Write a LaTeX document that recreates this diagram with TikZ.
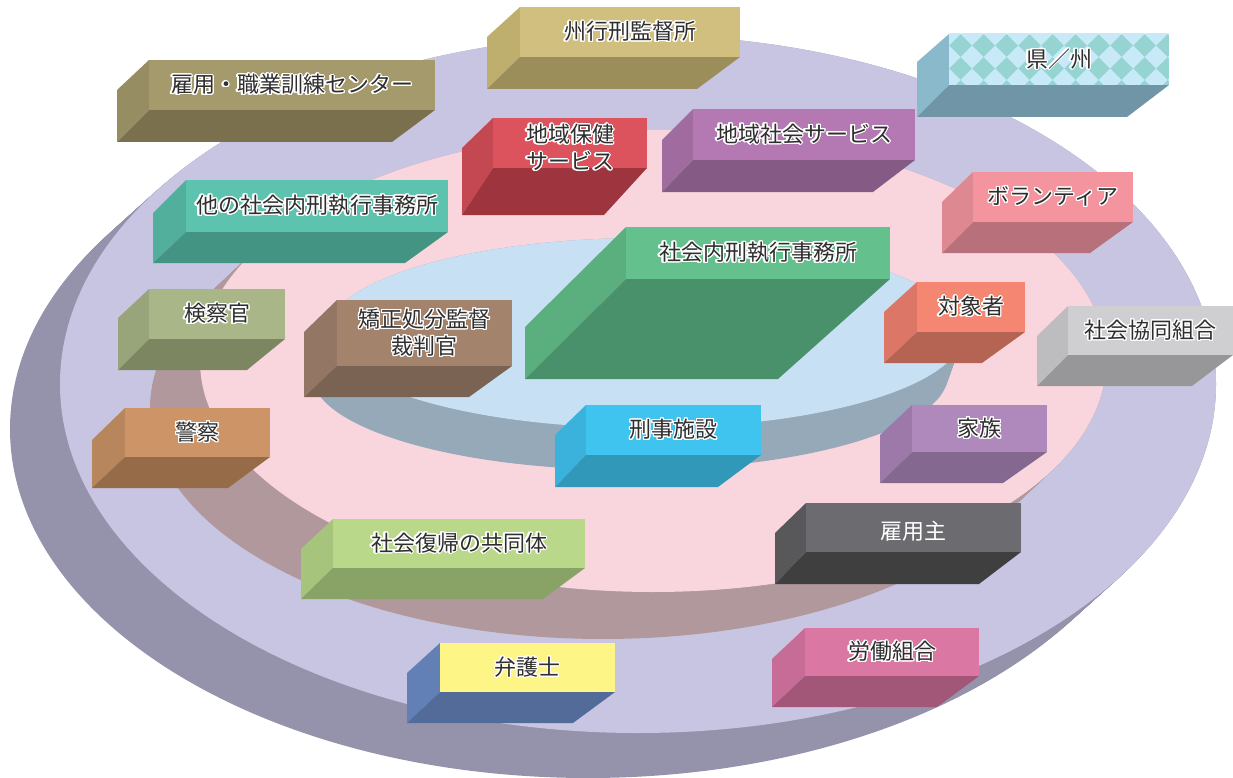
\documentclass[tikz,border=0pt]{standalone}
\usepackage{fontspec}
\setmainfont{Noto Sans CJK JP}
\usepackage{contour}
\contourlength{1.2pt}
\contournumber{24}
\definecolor{txt}{HTML}{2E2E2E}
\definecolor{outerS}{HTML}{9592AB}
\definecolor{outerT}{HTML}{C7C5E2}
\definecolor{midS}{HTML}{B0989D}
\definecolor{midT}{HTML}{F9D6DD}
\definecolor{innerS}{HTML}{95A9B8}
\definecolor{innerT}{HTML}{C7E0F4}
% block colours: T top, L left, B bottom
\definecolor{c1T}{HTML}{D0BF7E}\definecolor{c1L}{HTML}{BFAF6E}\definecolor{c1B}{HTML}{9B8E5B}
\definecolor{c2T}{HTML}{A59A6C}\definecolor{c2L}{HTML}{978D62}\definecolor{c2B}{HTML}{7A704E}
\definecolor{c3T}{HTML}{96D4D2}\definecolor{c3L}{HTML}{8BB9CC}\definecolor{c3B}{HTML}{7095A7}
\definecolor{c3P}{HTML}{C8E9F7}
\definecolor{c4T}{HTML}{DC535E}\definecolor{c4L}{HTML}{C44852}\definecolor{c4B}{HTML}{9E343D}
\definecolor{c5T}{HTML}{B479B3}\definecolor{c5L}{HTML}{A06CA0}\definecolor{c5B}{HTML}{855B86}
\definecolor{c6T}{HTML}{5DC2AE}\definecolor{c6L}{HTML}{52AF9C}\definecolor{c6B}{HTML}{439482}
\definecolor{c7T}{HTML}{F4949E}\definecolor{c7L}{HTML}{DE8891}\definecolor{c7B}{HTML}{B8707A}
\definecolor{c8T}{HTML}{64C08C}\definecolor{c8L}{HTML}{5BAF7E}\definecolor{c8B}{HTML}{48916A}
\definecolor{c9T}{HTML}{F48672}\definecolor{c9L}{HTML}{DC7768}\definecolor{c9B}{HTML}{B56453}
\definecolor{c10T}{HTML}{B089BC}\definecolor{c10L}{HTML}{9C79A8}\definecolor{c10B}{HTML}{846890}
\definecolor{c11T}{HTML}{CFCFD1}\definecolor{c11L}{HTML}{BDBDBF}\definecolor{c11B}{HTML}{97979A}
\definecolor{c12T}{HTML}{A8B688}\definecolor{c12L}{HTML}{98A57B}\definecolor{c12B}{HTML}{7C8762}
\definecolor{c13T}{HTML}{A4836D}\definecolor{c13L}{HTML}{937663}\definecolor{c13B}{HTML}{7A6352}
\definecolor{c14T}{HTML}{CC9467}\definecolor{c14L}{HTML}{B8865C}\definecolor{c14B}{HTML}{966B48}
\definecolor{c15T}{HTML}{3FC3EF}\definecolor{c15L}{HTML}{3BB2DC}\definecolor{c15B}{HTML}{3298BA}
\definecolor{c16T}{HTML}{BAD88A}\definecolor{c16L}{HTML}{A6C47C}\definecolor{c16B}{HTML}{89A266}
\definecolor{c17T}{HTML}{6C6C70}\definecolor{c17L}{HTML}{58585B}\definecolor{c17B}{HTML}{3F3F3F}
\definecolor{c18T}{HTML}{DA77A3}\definecolor{c18L}{HTML}{C66C96}\definecolor{c18B}{HTML}{A25678}
\definecolor{c19T}{HTML}{FEF587}\definecolor{c19L}{HTML}{6380B6}\definecolor{c19B}{HTML}{536B98}

\tikzset{lbl/.style={text=txt, font=\fontsize{22}{27}\selectfont, align=center, inner sep=0pt}}
\newcommand\blockextra{}
\newcommand\bshift{0}
\newcommand\block[9]{\def\bn{#1}\def\bxa{#2}\def\bya{#3}\def\bxb{#4}\def\byb{#5}\def\bxl{#6}\def\bye{#7}\def\byc{#8}\def\bxg{#9}\blockcont}
\newcommand\blockcont[1]{%
  \fill[fill=\bn L] (\bxa,\bya) -- (\bxl,\bye) -- (\bxl,\byc) -- (\bxa,\byb) -- cycle;
  \fill[fill=\bn B] (\bxa,\byb) -- (\bxb,\byb) -- (\bxg,\byc) -- (\bxl,\byc) -- cycle;
  \fill[fill=\bn T] (\bxa,\bya) rectangle (\bxb,\byb);
  \blockextra
  \node[lbl] (\bn) at ({(\bxa+\bxb)/2},{(\bya+\byb)/2+\bshift}) {#1};
}
\newcommand\ct[1]{\contour{white}{#1}}

\begin{document}
\begin{tikzpicture}[x=1pt,y=-1pt]
\useasboundingbox (0,0) rectangle (1233,778);
% outer disk
\foreach \t in {0,0.04,...,1.001}
  \fill[outerS] ({638-50*\t},{384+45*\t}) ellipse [x radius=578, y radius=349];
\fill[outerT] (638,384) ellipse [x radius=578, y radius=349];
% middle disk
\foreach \t in {0,0.04,...,1.001}
  \fill[midS] ({653-50*\t},{361+47*\t}) ellipse [x radius=453, y radius=231];
\fill[midT] (653,361) ellipse [x radius=453, y radius=231];
% inner disk
\foreach \t in {0,0.04,...,1.001}
  \fill[innerS] ({645-15*\t},{333+42*\t}) ellipse [x radius=318, y radius=95];
\fill[innerT] (645,333) ellipse [x radius=318, y radius=95];

\block{c1}{520}{7}{740}{57}{487}{37}{89}{697}{\ct{州行刑監督所}}
\block{c2}{149}{60}{435}{110}{117}{90}{142}{392}{\ct{雇用・職業訓練センター}}
\renewcommand\blockextra{%
  \begin{scope}
    \clip (949,34) rectangle (1169,85);
    \foreach \i in {0,...,10}
      \foreach \j in {0,...,3}
        \fill[c3P] ({949+23*\i},{34+23*\j-11.5}) -- ++(11.5,11.5) -- ++(-11.5,11.5) -- ++(-11.5,-11.5) -- cycle;
  \end{scope}}
\block{c3}{949}{34}{1169}{85}{917}{62}{117}{1127}{\ct{県／州}}
\renewcommand\blockextra{}
\renewcommand\bshift{5}
\block{c4}{493}{118}{647}{168}{462}{148}{215}{604}{\ct{地域保健}\\\ct{サービス}}
\renewcommand\bshift{0}
\block{c5}{693}{109}{915}{160}{662}{140}{192}{873}{\ct{地域社会サービス}}
\block{c6}{186}{180}{448}{232}{153}{213}{263}{405}{\ct{他の社会内刑執行事務所}}
\block{c7}{973}{172}{1133}{222}{942}{202}{253}{1090}{\ct{ボランティア}}
\block{c8}{626}{227}{890}{279}{525}{327}{379}{778}{\ct{社会内刑執行事務所}}
\block{c9}{917}{282}{1025}{332}{884}{312}{363}{982}{\ct{対象者}}
\block{c10}{912}{405}{1047}{452}{880}{435}{483}{1003}{\ct{家族}}
\block{c11}{1068}{306}{1233}{355}{1037}{336}{386}{1192}{\ct{社会協同組合}}
\block{c12}{149}{289}{285}{339}{118}{318}{370}{247}{\ct{検察官}}
\block{c13}{337}{300}{512}{366}{304}{332}{397}{469}{\ct{矯正処分監督}\\\ct{裁判官}}
\block{c14}{125}{408}{270}{457}{92}{440}{488}{228}{\ct{警察}}
\block{c15}{586}{405}{761}{455}{555}{435}{487}{718}{\ct{刑事施設}}
\block{c16}{333}{519}{585}{568}{301}{549}{599}{543}{\ct{社会復帰の共同体}}
\renewcommand\bshift{4}
\block{c17}{806}{503}{1021}{552}{775}{533}{584}{979}{\textcolor{white}{雇用主}}
\renewcommand\bshift{0}
\block{c18}{805}{628}{979}{676}{772}{659}{707}{937}{\ct{労働組合}}
\block{c19}{440}{643}{615}{692}{407}{673}{723}{573}{\ct{弁護士}}
\end{tikzpicture}
\end{document}
